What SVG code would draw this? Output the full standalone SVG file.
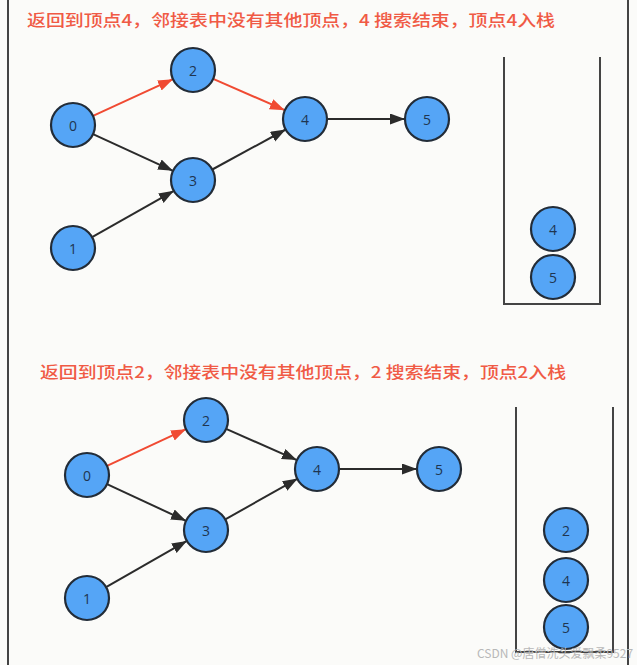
<svg xmlns="http://www.w3.org/2000/svg" width="637" height="665" viewBox="0 0 637 665">
<defs>
<marker id="ab" markerUnits="userSpaceOnUse" markerWidth="16" markerHeight="12" refX="15" refY="5.5" orient="auto"><path d="M0,0 L15,5.5 L0,11 z" fill="#2b2b2b"/></marker>
<marker id="ar" markerUnits="userSpaceOnUse" markerWidth="16" markerHeight="12" refX="15" refY="5.5" orient="auto"><path d="M0,0 L15,5.5 L0,11 z" fill="#f04a32"/></marker>
</defs>
<style>
.n circle{fill:#55a5f6;stroke:#222c38;stroke-width:2.2}
.n text{font-family:"Open Sans","Liberation Sans",sans-serif;font-size:14px;fill:#1f3550;text-anchor:middle;dominant-baseline:central}
.t{font-family:"Noto Sans CJK SC","Noto Sans",sans-serif;font-size:16px;font-weight:500;fill:#f05a45}
.b{stroke:#2b2b2b;stroke-width:2;fill:none;marker-end:url(#ab)}
.r{stroke:#f04a32;stroke-width:2;fill:none;marker-end:url(#ar)}
.w{stroke:#444;stroke-width:2;fill:none}
</style>
<rect width="637" height="665" fill="#fbfbf9"/>
<line class="w" x1="8" y1="0" x2="8" y2="665"/>
<line class="w" x1="628" y1="0" x2="628" y2="665"/>

<text class="t" x="27" y="26" textLength="528" lengthAdjust="spacingAndGlyphs">返回到顶点4，邻接表中没有其他顶点，4 搜索结束，顶点4入栈</text>
<text class="t" x="40" y="378" textLength="526" lengthAdjust="spacingAndGlyphs">返回到顶点2，邻接表中没有其他顶点，2 搜索结束，顶点2入栈</text>

<g id="connectors">
<line class="r" x1="93" y1="115.8" x2="173" y2="79.2"/>
<line class="r" x1="213.2" y1="78.8" x2="284.8" y2="110.2"/>
<line class="b" x1="93" y1="134.2" x2="173" y2="170.8"/>
<line class="b" x1="92.1" y1="237.2" x2="173.9" y2="190.8"/>
<line class="b" x1="212.3" y1="169.5" x2="285.7" y2="129.5"/>
<line class="b" x1="327" y1="119" x2="405" y2="119"/>

<line class="r" x1="107" y1="465.8" x2="186" y2="429.2"/>
<line class="b" x1="226.1" y1="428.9" x2="296.9" y2="460.1"/>
<line class="b" x1="107" y1="484.2" x2="186" y2="520.8"/>
<line class="b" x1="106.1" y1="587.1" x2="186.9" y2="540.9"/>
<line class="b" x1="225.3" y1="519.4" x2="297.7" y2="478.6"/>
<line class="b" x1="339" y1="469" x2="417" y2="469"/>
</g>

<g id="stack1"><path class="w" d="M504,57 V304 H600 V57"/></g>
<g id="stack2"><path class="w" d="M516,407 V652 H613 V407"/></g>

<g id="a0" class="n"><circle cx="73" cy="125" r="22"/><text x="73" y="125">0</text></g>
<g id="a1" class="n"><circle cx="73" cy="248" r="22"/><text x="73" y="248">1</text></g>
<g id="a2" class="n"><circle cx="193" cy="70" r="22"/><text x="193" y="70">2</text></g>
<g id="a3" class="n"><circle cx="193" cy="180" r="22"/><text x="193" y="180">3</text></g>
<g id="a4" class="n"><circle cx="305" cy="119" r="22"/><text x="305" y="119">4</text></g>
<g id="a5" class="n"><circle cx="427" cy="119" r="22"/><text x="427" y="119">5</text></g>
<g id="s1a" class="n"><circle cx="553" cy="229" r="22"/><text x="553" y="229">4</text></g>
<g id="s1b" class="n"><circle cx="553" cy="277" r="22"/><text x="553" y="277">5</text></g>

<g id="b0" class="n"><circle cx="87" cy="475" r="22"/><text x="87" y="475">0</text></g>
<g id="b1" class="n"><circle cx="87" cy="598" r="22"/><text x="87" y="598">1</text></g>
<g id="b2" class="n"><circle cx="206" cy="420" r="22"/><text x="206" y="420">2</text></g>
<g id="b3" class="n"><circle cx="206" cy="530" r="22"/><text x="206" y="530">3</text></g>
<g id="b4" class="n"><circle cx="317" cy="469" r="22"/><text x="317" y="469">4</text></g>
<g id="b5" class="n"><circle cx="439" cy="469" r="22"/><text x="439" y="469">5</text></g>
<g id="s2a" class="n"><circle cx="566" cy="530" r="22"/><text x="566" y="530">2</text></g>
<g id="s2b" class="n"><circle cx="566" cy="580" r="22"/><text x="566" y="580">4</text></g>
<g id="s2c" class="n"><circle cx="566" cy="627" r="22"/><text x="566" y="627">5</text></g>

<text x="477" y="658" font-family="'Noto Sans CJK SC','Liberation Sans',sans-serif" font-size="12" fill="#b8b8b8">CSDN @唐僧洗头爱飘柔9527</text>
</svg>
